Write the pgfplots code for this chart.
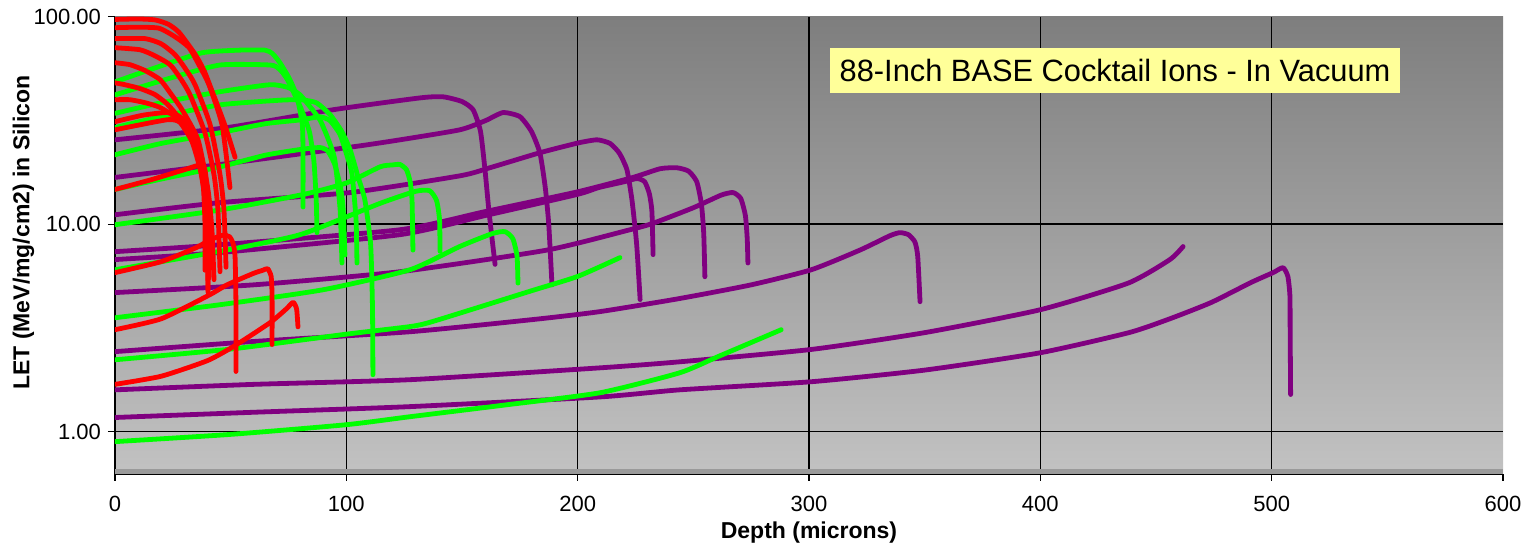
\documentclass[border=0pt]{standalone}
\usepackage{fontspec}
\setmainfont{Liberation Sans}
\usepackage{pgfplots}
\pgfplotsset{compat=1.18}
\definecolor{cpurp}{RGB}{128,0,128}
\definecolor{cgreen}{RGB}{0,255,0}
\definecolor{cred}{RGB}{255,0,0}
\definecolor{bgtop}{RGB}{126,126,126}
\definecolor{bgbot}{RGB}{194,194,194}
\definecolor{floorc}{RGB}{154,154,154}
\definecolor{notebox}{RGB}{255,255,153}

\begin{document}
\begin{tikzpicture}
\begin{axis}[
    name=ax,
    scale only axis,
    width=694pt, height=228.65pt,
    ymode=log,
    xmin=0, xmax=600, ymin=0.625, ymax=100,
    axis x line*=bottom, axis y line*=left,
    axis line style={line width=0.9pt, black},
    xtick={100,200,300,400,500},
    extra x ticks={0,600},
    extra x tick style={grid=none},
    ytick={1,10}, yticklabels={1.00,10.00},
    extra y ticks={100}, extra y tick labels={100.00},
    extra y tick style={grid=none},
    yminorticks=false,
    xmajorgrids=true, ymajorgrids=true,
    major grid style={black, line width=0.75pt},
    tick align=outside, major tick length=3.5pt,
    tick style={black, line width=0.6pt},
    /pgf/number format/assume math mode=true,
    tick label style={font=\fontsize{11}{13}\selectfont},
    xticklabel style={yshift=-4pt},
    xlabel={Depth (microns)},
    ylabel={LET (MeV/mg/cm2) in Silicon},
    label style={font=\fontsize{11.5}{14}\selectfont\bfseries},
    xlabel style={at={(axis description cs:0.5,-0.129)}, anchor=center},
    ylabel style={at={(axis description cs:-0.0659,0.528)}, anchor=center},
    axis background/.style={top color=bgtop, bottom color=bgbot},
    every axis plot/.append style={line width=2.4pt, line cap=round, line join=round, no markers, smooth, tension=0.35},
]

% floor band
\fill[floorc] (axis cs:0,0.625) rectangle (axis cs:600,0.663);

% purple
\addplot[cpurp] coordinates {(0,25.5) (48.4,29.2) (94.2,35.6) (131.8,40.6) (141.8,41.1) (150,39) (154.8,35.6) (158,28) (160,18) (161.5,12) (163,8.5) (164.3,6.4)};
\addplot[cpurp] coordinates {(0,16.8) (45.4,19.4) (102.9,23.6) (123.2,25.5) (149.1,28.5) (160,31.5) (167.7,34.5) (175,33) (180,28) (183.7,22) (186,15) (187.5,10) (188.9,5.1)};
\addplot[cpurp] coordinates {(0,11.1) (45.4,12.7) (101.6,14.2) (149.1,17.1) (162,18.7) (183.7,22.1) (200,24.6) (208.4,25.5) (214,24.5) (218,22) (221.3,18.3) (223.5,13) (225.5,8) (227,4.33)};
\addplot[cpurp] coordinates {(0,7.37) (45.4,7.96) (123.2,9.4) (160,11.5) (199.7,14.3) (223.9,16.8) (235.6,18.5) (242.9,18.7) (248,18) (251.5,16) (253.5,12.5) (254.5,9) (255,5.58)};
\addplot[cpurp] coordinates {(0,6.75) (45.4,7.3) (123.2,8.9) (160,11.0) (199.7,13.9) (209,15.0) (220,16.0) (225.7,16.6) (229,16.0) (231,14) (232.1,11.5) (232.6,7.13)};
\addplot[cpurp] coordinates {(0,4.68) (60,5.1) (123.2,5.9) (186.7,7.5) (222.6,9.4) (232.6,10.1) (250,12.0) (262,13.8) (267.2,14.2) (270.5,13.3) (272.5,11) (273.3,8.5) (273.6,6.5)};
\addplot[cpurp] coordinates {(0,2.43) (60,2.72) (127.5,3.03) (180.7,3.47) (209.7,3.79) (244,4.38) (275,5.1) (301,6.03) (322,7.5) (335,8.8) (339.3,9.1) (343,8.9) (345.8,8.2) (347,7) (348,4.23)};
\addplot[cpurp] coordinates {(0,1.59) (60,1.69) (127.5,1.78) (209.7,2.03) (244,2.17) (301,2.49) (350,3.0) (400,3.87) (438,5.2) (456,6.75) (461.7,7.8)};
\addplot[cpurp] coordinates {(0,1.17) (60,1.24) (127.5,1.32) (209.7,1.47) (244,1.59) (301,1.74) (350,1.98) (400,2.40) (438.3,3.0) (456,3.5) (473.8,4.19) (491,5.23) (500.6,5.84) (504.9,6.17) (507,5.6) (507.9,4.5) (508,3.0) (508.2,1.51)};

% green
\addplot[cgreen] coordinates {(0,48.5) (18,57) (37.6,67) (54,69) (64.8,69) (68,66.5) (71.3,60) (75.5,50) (78.7,41) (81,30) (81.3,20) (81.3,12.1)};
\addplot[cgreen] coordinates {(0,42) (25,51) (45.4,58.5) (67,58.5) (71,56) (74.4,50) (80,37) (84,28) (86,20) (87,13) (87.3,9.1)};
\addplot[cgreen] coordinates {(0,34.2) (20,38.5) (45.4,43.5) (67,47) (75,45.5) (80,42) (85,36) (88.6,31.8) (92,26) (95,20.5) (97.3,11.8) (98.1,6.5)};
\addplot[cgreen] coordinates {(0,29.2) (20,33) (45.4,37.6) (70,39.5) (80,39.8) (87,38.5) (93,33.7) (98,28) (101.6,22.9) (105,17) (108,13.1) (110.5,8) (111.3,4) (111.5,1.88)};
\addplot[cgreen] coordinates {(0,21.6) (20,24.5) (45.4,27.6) (65,30.5) (80,31.8) (88.6,32.9) (93,31.5) (97.3,27) (100.5,21) (102.5,17.3) (104.2,10.5) (104.6,6.5)};
\addplot[cgreen] coordinates {(0,14.7) (20,16.5) (45.4,18.9) (65,21.5) (80,22.9) (88.6,23.4) (92,22.5) (95,19.4) (97.5,15) (98.6,12) (99.4,7.1)};
\addplot[cgreen] coordinates {(0,9.94) (45.4,11.7) (81.3,13.9) (100,15.8) (114.6,18.9) (120,19.3) (123.2,19.4) (126,18.3) (127.6,16) (128.4,13.1) (128.8,7.5)};
\addplot[cgreen] coordinates {(0,6.03) (45.4,7.4) (80,8.9) (114.6,12.6) (130,14.4) (136,14.5) (139,13) (140.3,10.5) (140.5,7.4)};
\addplot[cgreen] coordinates {(0,3.54) (45.4,4.09) (90,4.83) (127.5,6.03) (149,7.8) (163,9.0) (168.6,9.2) (172,8.5) (173.8,7) (174.2,5.2)};
\addplot[cgreen] coordinates {(0,2.22) (50,2.5) (100,2.95) (127.5,3.21) (137.5,3.4) (180.7,4.8) (200,5.6) (218.3,6.9)};
\addplot[cgreen] coordinates {(0,0.895) (50,0.97) (100,1.08) (127.5,1.18) (170,1.35) (209.7,1.54) (244,1.92) (260.7,2.3) (288,3.1)};

% red
\addplot[cred] coordinates {(0,97) (10,97.5) (17.3,96.5) (23,92) (27.7,84) (34.6,66) (38.5,55) (41.9,44) (47.5,30) (51.9,21)};
\addplot[cred] coordinates {(0,88.5) (10,89) (19,88) (26,80) (32,71) (36.5,58) (40.6,47) (46.3,30) (49.7,15)};
\addplot[cred] coordinates {(0,78.4) (13,78.4) (20,74) (25.9,65.7) (30.5,56) (34.6,47) (41.1,30.2) (45.4,17.3) (47.1,11.7) (48,6.2)};
\addplot[cred] coordinates {(0,70.9) (10.8,69.3) (17,65) (23.8,58.7) (28.5,50) (32.4,42.1) (38.9,27.5) (42.8,17.3) (44.5,11.7) (45.4,5.9)};
\addplot[cred] coordinates {(0,60) (6.5,58.7) (13,55) (19.5,49.7) (24.5,42) (29,35.6) (35.9,25.5) (40.2,14.7) (41.9,9.4) (42.8,5.4)};
\addplot[cred] coordinates {(0,48) (4.3,47) (11,45) (17.3,42.1) (22.5,38) (27.2,33) (34.6,24.5) (38.5,16) (39.8,10.5) (40.2,4.8)};
\addplot[cred] coordinates {(0,39.8) (6.5,39.8) (13,38.5) (19.5,36.5) (28.1,31.5) (34.6,23.5) (38,16) (38.9,10) (38.9,6.0)};
\addplot[cred] coordinates {(0,31.2) (12,33.5) (21.6,34.5) (26,34) (32,30.2) (36.3,21.6) (38.9,15) (39.8,10) (39.8,7.1)};
\addplot[cred] coordinates {(0,28.5) (10,30) (23,31.9) (28,31) (33.3,25) (37,18) (39.5,12) (40.6,8) (40.6,5.5)};
\addplot[cred] coordinates {(0,14.7) (15,16.3) (30,18.3) (37.6,19.4) (39,18) (39.8,14) (40.2,9) (40.2,4.7)};
\addplot[cred] coordinates {(0,5.84) (20,6.6) (35,7.7) (41,8.4) (46.7,8.85) (49.5,8.7) (51,8.1) (51.9,7.0) (52.3,4) (52.3,1.95)};
\addplot[cred] coordinates {(0,3.10) (20,3.5) (41,4.57) (48.4,5.1) (60,5.8) (64,6.0) (66,6.1) (67.5,5.6) (67.9,4.5) (67.9,2.63)};
\addplot[cred] coordinates {(0,1.69) (20,1.85) (40,2.2) (51.9,2.6) (67,3.35) (74,3.9) (77,4.2) (78.5,3.9) (79.1,3.2)};

\node[fill=notebox, font=\fontsize{15.4}{18}\selectfont, inner xsep=4.75pt, minimum height=22.5pt, anchor=center]
  at (rel axis cs:0.7205,0.8824) {88-Inch BASE Cocktail Ions - In Vacuum};
\end{axis}
\pgfresetboundingbox
\path ([shift={(-57.5pt,-35pt)}]ax.south west) rectangle ([shift={(706.5pt,237pt)}]ax.south west);
\end{tikzpicture}
\end{document}
